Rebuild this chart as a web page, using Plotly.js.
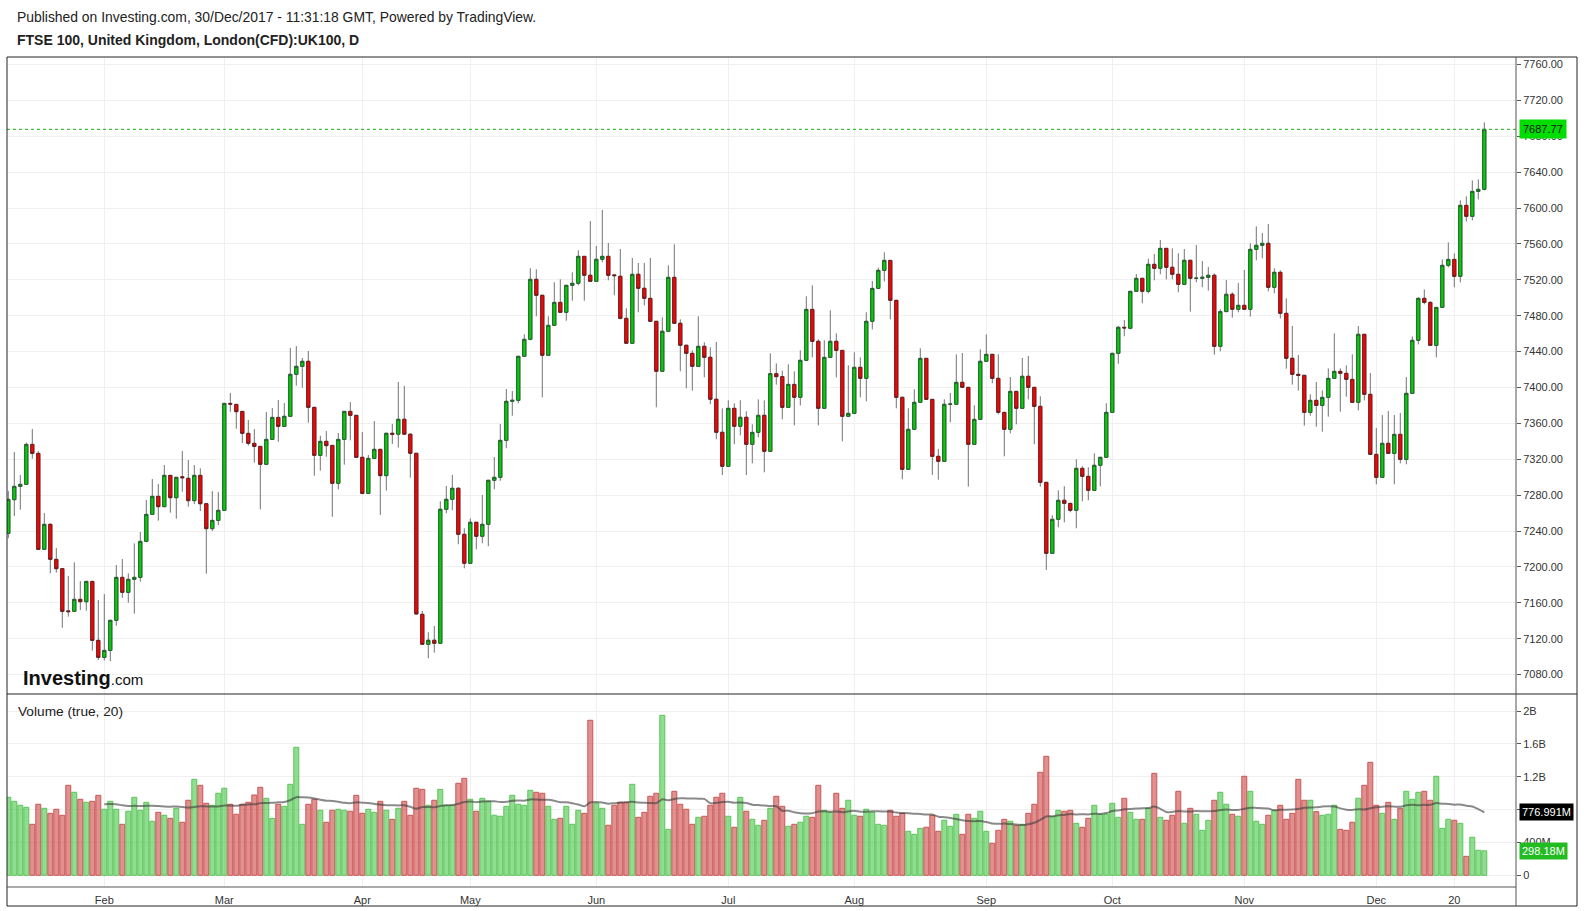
<!DOCTYPE html>
<html><head><meta charset="utf-8">
<script src="https://cdn.plot.ly/plotly-3.0.1.min.js"></script>
<style>html,body{margin:0;padding:0;background:#fff;}#chart{width:1584px;height:911px;}</style>
</head><body><div id="chart"></div>
<script>
// ---- data ----
const firstDay = '2017-01-10';
const lastDay = '2017-12-29';
const holidays = ['2017-04-14','2017-04-17','2017-05-01','2017-05-29','2017-08-28','2017-12-25','2017-12-26'];
const tickDates = ['2017-02-01','2017-03-01','2017-04-03','2017-05-02','2017-06-01','2017-07-03','2017-08-01','2017-09-01','2017-10-02','2017-11-01','2017-12-01','2017-12-20'];
const tickLabels = ['Feb','Mar','Apr','May','Jun','Jul','Aug','Sep','Oct','Nov','Dec','20'];

const openP = [7237.4,7275.0,7289.8,7292.1,7336.6,7326.6,7219.6,7247.5,7208.5,7198.1,7151.0,7150.5,7163.9,7161.3,7183.9,7118.2,7099.2,7107.0,7140.5,7188.4,
7171.7,7186.2,7188.4,7228.5,7258.6,7278.7,7267.2,7302.1,7277.2,7300.5,7298.8,7273.9,7302.1,7270.5,7242.7,7251.9,7263.1,7382.3,7381.2,7373.4,
7348.9,7337.8,7334.4,7314.4,7342.2,7366.7,7356.7,7367.9,7414.7,7423.6,7429.2,7377.9,7324.4,7340.0,7335.5,7293.2,7342.2,7373.4,7369.0,7322.2,
7282.0,7321.0,7331.1,7301.8,7349.0,7348.0,7364.6,7348.0,7326.7,7147.2,7113.8,7118.3,7114.9,7264.3,7275.4,7287.7,7236.4,7204.1,7249.8,7234.2,
7247.5,7296.6,7299.9,7341.1,7384.6,7385.7,7434.8,7453.7,7520.6,7502.8,7435.9,7469.3,7494.9,7483.8,7513.9,7516.2,7546.2,7525.1,7518.4,7542.9,
7546.2,7525.5,7524.0,7477.1,7449.3,7526.2,7510.6,7499.4,7473.8,7418.1,7462.7,7522.8,7471.6,7447.1,7438.1,7423.6,7445.9,7433.7,7386.9,7350.1,
7312.2,7376.8,7356.8,7366.8,7336.7,7350.0,7369.0,7328.9,7415.4,7412.1,7377.9,7403.5,7389.1,7430.3,7487.1,7451.5,7376.8,7433.6,7451.5,7441.4,
7367.9,7371.2,7422.5,7410.2,7473.8,7510.5,7530.6,7541.7,7497.2,7389.1,7308.8,7353.4,7383.5,7432.5,7386.8,7323.3,7317.7,7381.3,7381.3,7405.8,
7400.2,7336.7,7364.5,7429.2,7437.0,7410.2,7372.3,7353.4,7395.7,7376.8,7412.5,7400.2,7379.0,7294.3,7215.2,7253.1,7274.3,7270.9,7263.1,7309.9,
7301.0,7285.4,7313.3,7322.2,7372.3,7438.1,7467.1,7466.0,7507.2,7521.7,7507.2,7537.3,7532.9,7555.1,7534.0,7526.2,7515.0,7541.8,7521.7,7521.7,
7522.8,7525.1,7445.9,7484.6,7503.9,7487.2,7491.6,7487.2,7554.0,7558.5,7560.7,7511.7,7528.4,7482.7,7432.6,7414.7,7413.6,7372.3,7385.7,7380.1,
7389.0,7410.2,7418.0,7415.8,7409.1,7383.5,7459.3,7392.4,7325.5,7299.9,7337.8,7326.6,7347.8,7319.9,7393.5,7452.6,7499.4,7494.9,7447.0,7489.3,
7536.2,7542.8,7523.9,7603.0,7590.8,7618.6,7620.9];
const highP = [7284.6,7328.1,7302.5,7338.5,7353.7,7329.2,7260.1,7248.6,7221.1,7198.5,7189.9,7205.1,7184.3,7184.4,7184.4,7163.1,7169.8,7141.0,7202.2,7208.8,
7192.9,7226.3,7238.9,7274.6,7298.0,7292.4,7313.6,7302.5,7300.4,7329.2,7319.2,7313.6,7309.9,7271.0,7284.6,7283.5,7382.8,7393.9,7381.6,7373.8,
7363.8,7353.7,7334.8,7372.7,7377.1,7386.1,7382.7,7444.0,7446.2,7432.9,7440.7,7378.3,7346.3,7351.5,7335.9,7349.3,7373.8,7383.8,7369.4,7350.4,
7324.8,7362.7,7331.5,7349.4,7359.4,7406.2,7401.8,7348.4,7327.1,7150.9,7127.2,7134.2,7273.2,7290.3,7302.6,7288.8,7243.1,7254.2,7250.2,7280.2,
7297.0,7322.6,7359.4,7398.4,7396.1,7435.2,7459.3,7532.9,7531.8,7503.2,7479.4,7517.3,7520.6,7514.3,7528.4,7552.9,7546.6,7585.6,7557.8,7597.9,
7561.1,7526.2,7554.4,7488.3,7544.4,7538.8,7538.8,7544.4,7474.2,7478.3,7536.2,7559.6,7476.0,7447.5,7441.5,7479.4,7450.4,7444.8,7450.8,7376.8,
7385.8,7382.4,7385.8,7373.5,7359.0,7386.8,7385.7,7438.1,7426.9,7418.8,7425.8,7418.0,7441.4,7501.6,7513.9,7453.7,7452.6,7486.0,7460.4,7441.8,
7424.7,7439.2,7433.6,7483.8,7518.7,7533.6,7550.7,7542.1,7497.6,7389.5,7376.8,7398.0,7443.7,7432.9,7387.2,7331.5,7386.8,7393.9,7437.0,7438.5,
7400.6,7380.1,7442.6,7459.3,7437.4,7437.0,7372.7,7411.7,7396.1,7432.9,7435.1,7400.6,7390.2,7294.7,7257.5,7285.4,7289.9,7271.3,7320.0,7312.2,
7311.0,7326.7,7322.6,7382.4,7438.5,7468.6,7475.3,7507.6,7526.5,7522.1,7543.6,7548.8,7564.4,7555.5,7555.1,7549.6,7554.4,7542.2,7558.9,7541.0,
7534.3,7527.3,7487.2,7519.9,7506.1,7516.5,7531.0,7560.7,7579.7,7572.2,7582.3,7532.9,7530.6,7499.4,7468.6,7436.3,7414.0,7392.4,7406.1,7396.8,
7421.4,7460.4,7421.4,7424.7,7437.0,7468.5,7459.7,7416.2,7354.9,7369.3,7373.8,7369.3,7371.6,7411.7,7457.0,7500.5,7509.4,7496.0,7489.7,7542.8,
7561.8,7549.5,7608.6,7613.1,7630.9,7632.0,7695.5];
const lowP = [7232.0,7256.8,7263.8,7291.5,7320.7,7219.0,7219.0,7192.9,7193.6,7132.3,7144.6,7150.0,7152.0,7151.3,7106.7,7096.3,7096.0,7095.0,7134.5,7165.7,
7160.2,7147.9,7183.6,7228.0,7258.0,7251.6,7266.8,7260.5,7253.8,7283.9,7267.2,7270.0,7262.3,7192.5,7240.1,7246.7,7262.6,7373.1,7354.1,7338.1,
7335.2,7316.2,7264.2,7314.0,7341.8,7339.6,7356.3,7367.5,7402.0,7399.8,7360.8,7301.7,7307.3,7322.9,7256.0,7286.5,7314.0,7341.1,7321.8,7280.9,
7281.6,7320.6,7257.9,7285.1,7337.1,7333.0,7347.6,7299.6,7147.2,7113.4,7098.2,7104.5,7114.5,7259.8,7263.2,7225.3,7198.5,7203.7,7219.7,7226.4,
7223.1,7286.5,7296.0,7332.3,7368.6,7382.4,7434.4,7452.6,7479.4,7389.1,7435.5,7468.9,7483.4,7474.5,7496.8,7513.9,7496.8,7518.0,7518.0,7539.6,
7519.5,7502.8,7476.0,7448.9,7448.9,7483.8,7491.6,7473.4,7378.0,7417.7,7462.3,7471.2,7418.1,7399.1,7396.5,7423.2,7411.4,7381.3,7342.3,7302.5,
7311.8,7336.7,7346.7,7302.5,7315.5,7344.5,7305.5,7328.5,7403.2,7364.5,7377.5,7357.8,7380.1,7429.9,7433.6,7357.8,7376.4,7433.2,7411.3,7340.0,
7367.5,7370.8,7389.1,7384.6,7464.8,7510.1,7518.3,7476.0,7376.8,7297.7,7308.4,7353.0,7383.1,7386.4,7302.5,7297.3,7317.3,7361.2,7380.9,7399.8,
7289.5,7336.3,7364.1,7428.8,7404.7,7370.1,7323.3,7348.9,7359.0,7376.4,7386.8,7336.7,7289.5,7196.7,7214.8,7244.2,7249.7,7260.9,7243.1,7273.2,
7274.3,7285.0,7289.9,7321.8,7371.9,7426.6,7457.1,7465.0,7506.8,7493.9,7505.0,7519.5,7526.2,7520.6,7520.6,7506.1,7514.6,7484.6,7517.3,7511.7,
7508.0,7436.6,7440.4,7484.2,7477.9,7483.8,7486.8,7479.0,7541.8,7544.0,7507.2,7505.0,7477.1,7421.0,7403.2,7396.5,7357.5,7368.6,7356.3,7350.8,
7367.5,7409.8,7373.1,7389.8,7383.1,7374.6,7385.7,7325.1,7292.1,7299.5,7326.2,7292.1,7315.5,7314.4,7393.1,7448.1,7492.7,7446.6,7433.6,7488.9,
7533.9,7511.6,7517.2,7585.2,7586.3,7609.7,7619.7];
const closeP = [7275.3,7289.8,7292.1,7336.6,7326.6,7219.6,7247.5,7208.5,7198.1,7150.5,7150.2,7163.9,7161.3,7183.9,7118.2,7099.2,7107.0,7140.5,7188.4,7171.7,
7186.2,7188.4,7228.5,7258.6,7278.7,7267.2,7302.1,7277.2,7299.9,7299.5,7273.9,7302.1,7270.5,7242.7,7251.9,7263.1,7382.3,7381.5,7373.1,7348.9,
7337.8,7334.4,7314.4,7342.2,7366.7,7356.7,7367.9,7414.7,7423.6,7429.2,7377.9,7324.4,7340.0,7335.2,7293.2,7342.2,7373.4,7369.0,7322.2,7282.0,
7321.0,7331.1,7301.8,7349.0,7347.9,7364.6,7348.0,7326.7,7147.6,7113.8,7118.3,7114.9,7264.3,7275.4,7287.7,7236.4,7204.1,7249.8,7234.2,7247.5,
7296.6,7299.9,7341.1,7384.6,7385.7,7434.8,7453.7,7520.6,7502.8,7435.9,7469.3,7494.9,7483.8,7513.9,7516.2,7546.2,7525.1,7518.4,7542.9,7546.2,
7525.1,7524.7,7477.1,7449.3,7526.2,7510.6,7499.4,7473.8,7418.1,7462.7,7522.8,7471.6,7447.1,7438.1,7423.6,7445.9,7433.7,7386.9,7350.1,7312.2,
7376.8,7356.8,7366.8,7336.7,7350.0,7369.0,7328.9,7415.4,7412.1,7377.9,7403.5,7389.1,7430.3,7487.1,7451.5,7376.8,7433.6,7451.5,7441.4,7367.9,
7371.2,7422.5,7410.2,7473.8,7510.5,7530.6,7541.7,7497.2,7389.1,7308.8,7353.4,7383.5,7432.5,7386.8,7323.3,7317.7,7381.3,7381.6,7405.8,7400.2,
7336.7,7364.5,7429.2,7437.0,7410.2,7372.3,7353.4,7395.7,7376.8,7412.5,7400.2,7379.0,7294.3,7215.2,7253.1,7274.3,7270.9,7263.1,7309.9,7301.0,
7285.4,7313.3,7322.2,7372.3,7438.1,7467.1,7466.5,7507.2,7521.7,7507.2,7537.3,7532.9,7555.1,7534.0,7526.2,7515.0,7541.8,7521.7,7521.9,7522.8,
7525.1,7445.9,7484.6,7503.9,7487.2,7491.6,7487.2,7554.0,7558.5,7560.7,7511.7,7528.4,7482.7,7432.6,7414.7,7413.5,7372.3,7385.7,7380.1,7389.0,
7410.2,7418.0,7415.8,7409.1,7383.5,7459.3,7392.4,7325.5,7299.9,7337.8,7326.6,7347.8,7319.9,7393.5,7452.6,7499.4,7494.9,7447.0,7489.3,7536.2,
7542.8,7523.9,7603.0,7590.8,7618.6,7620.9,7687.77];
// volume in millions
const volumeM = [950,901,853,828,621,865,816,755,804,731,1096,1011,926,889,901,974,804,901,804,621,
780,950,792,889,658,767,731,694,816,646,914,1169,1096,877,853,999,1060,865,743,865,
889,978,1072,938,694,865,840,1108,1559,621,865,926,792,646,792,804,792,780,974,755,
804,767,901,792,682,816,901,731,1060,1047,853,914,1047,853,853,1121,1181,926,780,938,
901,731,719,840,974,865,853,1035,1011,999,840,682,694,840,621,792,755,1888,877,816,
609,853,889,889,1108,706,767,962,999,1949,560,1023,865,804,621,706,719,853,950,999,
719,585,950,780,682,609,670,816,962,840,597,621,646,719,706,1096,792,767,999,816,
914,731,719,804,767,621,609,792,719,755,536,499,572,585,731,536,670,597,743,499,
743,694,780,536,390,548,682,658,609,621,755,865,1255,1449,719,792,780,792,633,585,
694,853,743,743,877,706,938,767,682,682,816,1242,706,670,731,1023,633,816,743,548,
670,914,1011,865,743,719,1206,1023,658,621,731,792,853,682,755,1169,914,914,775,731,
743,853,560,548,646,938,1096,1376,853,755,889,682,816,1023,926,1011,1023,914,1206,572,
682,670,633,231,463,305,298.18];
const lastPriceLabel = '7687.77';
const volMaLabel = '776.991M';
const lastVolLabel = '298.18M';
const maLength = 20;
const maStart = 16;

// ---- build trading-day categories ----
const dates = [];
(function(){
  let d = new Date(firstDay + 'T00:00:00Z');
  const end = new Date(lastDay + 'T00:00:00Z');
  while (d <= end) {
    const s = d.toISOString().slice(0,10);
    const wd = d.getUTCDay();
    if (wd !== 0 && wd !== 6 && holidays.indexOf(s) < 0) dates.push(s);
    d = new Date(d.getTime() + 86400000);
  }
})();

const volume = volumeM.map(v => v * 1e6);
const isUp = closeP.map((c, i) => c >= openP[i]);
const bodyHigh = closeP.map((c, i) => Math.max(c, openP[i]));
const bodyLow = closeP.map((c, i) => Math.min(c, openP[i]));

// 20-period moving average of volume (as drawn by the source indicator)
const maX = [], maY = [];
for (let i = maStart; i < volume.length; i++) {
  let s = 0, n = 0;
  for (let j = Math.max(0, i - maLength + 1); j <= i; j++) { s += volume[j]; n++; }
  maX.push(dates[i]); maY.push(s / n);
}

const GREEN_BODY = '#00d300', GREEN_EDGE = '#23602f';
const RED_BODY = '#ff0000', RED_EDGE = '#6e1c1c';
const WICK = '#737373';

const wicks = {
  type: 'candlestick', x: dates, open: openP, high: highP, low: lowP, close: closeP,
  xaxis: 'x', yaxis: 'y', whiskerwidth: 0, hoverinfo: 'skip',
  increasing: {line: {color: WICK, width: 1}, fillcolor: WICK},
  decreasing: {line: {color: WICK, width: 1}, fillcolor: WICK},
  showlegend: false
};
const bodies = {
  type: 'candlestick', x: dates, open: openP, high: bodyHigh, low: bodyLow, close: closeP,
  xaxis: 'x', yaxis: 'y', whiskerwidth: 0, hoverinfo: 'skip',
  increasing: {line: {color: GREEN_EDGE, width: 1}, fillcolor: GREEN_BODY},
  decreasing: {line: {color: RED_EDGE, width: 1}, fillcolor: RED_BODY},
  showlegend: false
};
const volBars = {
  type: 'bar', x: dates, y: volume, xaxis: 'x', yaxis: 'y2', width: 0.83,
  marker: {
    color: isUp.map(u => u ? 'rgba(40,190,40,0.52)' : 'rgba(200,40,40,0.52)'),
    line: {color: isUp.map(u => u ? '#5cc45a' : '#c95656'), width: 1}
  },
  hoverinfo: 'skip', showlegend: false
};
const volMa = {
  type: 'scatter', mode: 'lines', x: maX, y: maY, xaxis: 'x', yaxis: 'y2',
  line: {color: 'rgba(60,60,60,0.6)', width: 2, shape: 'spline', smoothing: 0.6},
  hoverinfo: 'skip', showlegend: false
};

const W = 1584, H = 911;
const L = 7, R = 1516, T = 57, B = 887;
const px = v => (v - L) / (R - L);
const py = v => (B - v) / (B - T);
const paneSplit = py(694);

const font = 'Arial, "Liberation Sans", sans-serif';
const layout = {
  width: W, height: H,
  margin: {l: L, r: W - R, t: T, b: H - B, pad: 0},
  paper_bgcolor: '#ffffff', plot_bgcolor: '#ffffff',
  font: {family: font, size: 11, color: '#333'},
  boxgap: 0.25, bargap: 0,
  showlegend: false,
  xaxis: {
    type: 'category', anchor: 'y2', domain: [0, 1],
    range: [(L - 8.3) / 6, (R - 8.3) / 6],
    tickvals: tickDates, ticktext: tickLabels, tickangle: 0,
    showgrid: true, gridcolor: '#f0f0f0', gridwidth: 1,
    ticks: 'outside', ticklen: 3, tickcolor: 'rgba(0,0,0,0)', showline: false, zeroline: false,
    tickfont: {family: font, size: 11, color: '#333'},
    rangeslider: {visible: false}, fixedrange: true
  },
  yaxis: {
    domain: [paneSplit, 1], anchor: 'x', side: 'right',
    range: [7058.4, 7768.4], tick0: 7080, dtick: 40, tickformat: '.2f',
    showgrid: true, gridcolor: '#f0f0f0', gridwidth: 1, zeroline: false,
    ticks: 'outside', ticklen: 4, tickcolor: '#555', showline: false,
    tickfont: {family: font, size: 11, color: '#333'}, fixedrange: true
  },
  yaxis2: {
    domain: [0, paneSplit], anchor: 'x', side: 'right',
    range: [-142.5e6, 2208e6],
    tickvals: [0, 4e8, 8e8, 1.2e9, 1.6e9, 2e9],
    ticktext: ['0', '400M', '800M', '1.2B', '1.6B', '2B'],
    showgrid: true, gridcolor: '#f0f0f0', gridwidth: 1, zeroline: false,
    ticks: 'outside', ticklen: 4, tickcolor: '#555', showline: false,
    tickfont: {family: font, size: 11, color: '#333'}, fixedrange: true
  },
  shapes: [
    {type: 'line', xref: 'paper', yref: 'y', x0: 0, x1: 1, y0: closeP[closeP.length-1], y1: closeP[closeP.length-1],
     line: {color: '#12b312', width: 1, dash: 'dot'}},
    {type: 'rect', xref: 'paper', yref: 'paper', x0: 0, x1: px(1577), y0: py(906), y1: 1,
     line: {color: '#222', width: 1}, fillcolor: 'rgba(0,0,0,0)'},
    {type: 'line', xref: 'paper', yref: 'paper', x0: 0, x1: px(1577), y0: paneSplit, y1: paneSplit,
     line: {color: '#222', width: 1}},
    {type: 'line', xref: 'paper', yref: 'paper', x0: 1, x1: 1, y0: py(906), y1: 1,
     line: {color: '#555', width: 1}},
    {type: 'line', xref: 'paper', yref: 'paper', x0: 0, x1: 1, y0: 0, y1: 0,
     line: {color: '#555', width: 1}}
  ],
  annotations: [
    {xref: 'paper', yref: 'paper', x: px(15), y: py(17), xanchor: 'left', yanchor: 'middle', showarrow: false,
     text: 'Published on Investing.com, 30/Dec/2017 - 11:31:18 GMT, Powered by TradingView.',
     font: {family: font, size: 13.9, color: '#222'}},
    {xref: 'paper', yref: 'paper', x: px(15), y: py(40), xanchor: 'left', yanchor: 'middle', showarrow: false,
     text: '<b>FTSE 100, United Kingdom, London(CFD):UK100, D</b>',
     font: {family: font, size: 14, color: '#222'}},
    {xref: 'paper', yref: 'paper', x: px(16), y: py(711), xanchor: 'left', yanchor: 'middle', showarrow: false,
     text: 'Volume (true, 20)', font: {family: font, size: 13.7, color: '#222'}},
    {xref: 'paper', yref: 'paper', x: px(21), y: py(678), xanchor: 'left', yanchor: 'middle', showarrow: false,
     text: '<b>Investing</b><span style="font-size:15px">.com</span>',
     font: {family: font, size: 20, color: '#111'}},
    {xref: 'paper', yref: 'y', x: px(1519), y: closeP[closeP.length-1], xanchor: 'left', yanchor: 'middle', showarrow: false,
     text: lastPriceLabel, bgcolor: '#00dd00', borderpad: 3, font: {family: font, size: 11, color: '#111'}},
    {xref: 'paper', yref: 'y2', x: px(1519), y: maY[maY.length-1], xanchor: 'left', yanchor: 'middle', showarrow: false,
     text: volMaLabel, bgcolor: '#000000', borderpad: 2, font: {family: font, size: 11, color: '#ffffff'}},
    {xref: 'paper', yref: 'y2', x: px(1519), y: volume[volume.length-1], xanchor: 'left', yanchor: 'middle', showarrow: false,
     text: lastVolLabel, bgcolor: '#22bb22', borderpad: 2, font: {family: font, size: 11, color: '#ffffff'}}
  ]
};

Plotly.newPlot('chart', [volBars, volMa, wicks, bodies], layout, {displayModeBar: false, staticPlot: true});
</script>
</body></html>
